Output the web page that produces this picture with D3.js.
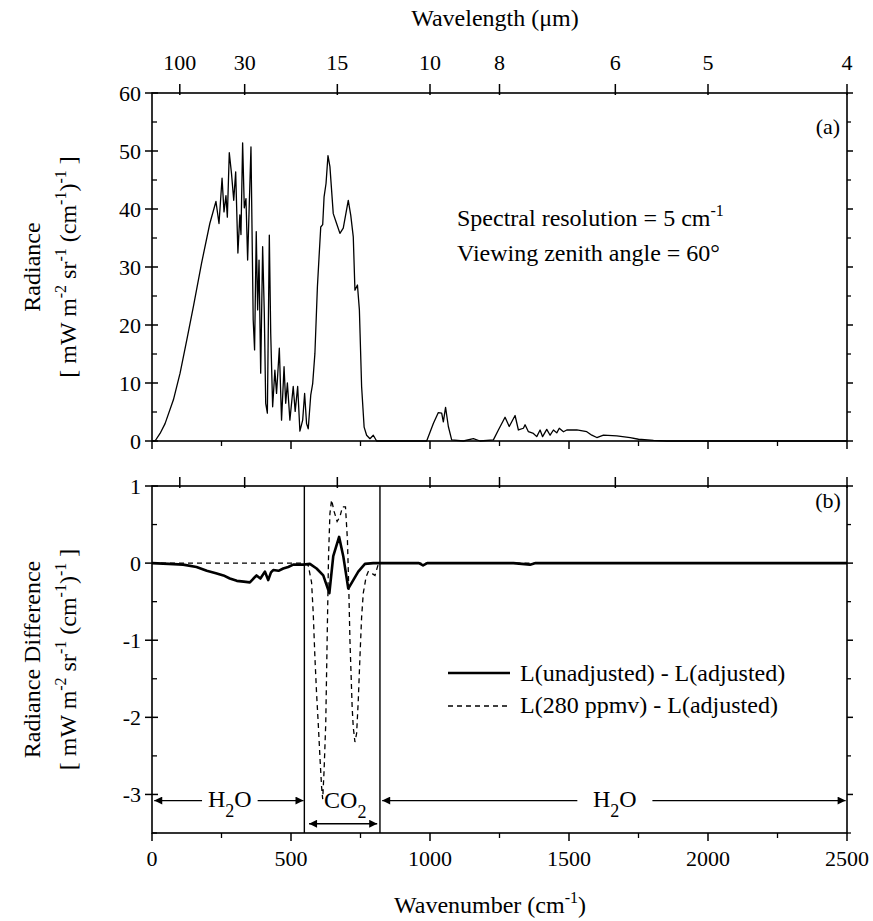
<!DOCTYPE html>
<html>
<head>
<meta charset="utf-8">
<script src="https://cdn.jsdelivr.net/npm/d3@7"></script>
<style>
  html, body { margin: 0; padding: 0; background: #fff; }
  svg { display: block; }
  text { font-family: "Liberation Serif", "Times New Roman", serif; fill: #000; }
</style>
</head>
<body>
<svg id="chart" width="873" height="921"></svg>
<script>
// ---------- DATA ----------
// Panel (a): radiance spectrum (wavenumber cm-1, radiance)
const radWn  = [0, 11, 29, 47, 77, 101, 125, 149, 178, 208, 230, 241, 252, 259, 266, 271, 278, 286, 294, 301, 309, 316, 320, 326, 332, 338, 344, 356, 364, 369, 375, 380, 385, 391, 398, 404, 409, 415, 422, 427, 434, 442, 448, 458, 466, 475, 481, 487, 496, 508, 515, 524, 532, 542, 549, 556, 562, 571, 578, 586, 595, 601, 607, 614, 619, 626, 633, 640, 652, 664, 676, 688, 706, 715, 724, 730, 739, 746, 754, 763, 772, 784, 796, 808, 900, 988, 1012, 1030, 1042, 1048, 1056, 1066, 1078, 1120, 1156, 1180, 1228, 1246, 1270, 1285, 1306, 1318, 1336, 1342, 1354, 1372, 1384, 1396, 1405, 1420, 1432, 1444, 1456, 1465, 1480, 1492, 1528, 1564, 1582, 1600, 1624, 1672, 1720, 1750, 1804, 1852, 2000, 2500];
const radVal = [0, 0, 1.3, 3.0, 7.1, 11.7, 17.4, 23.2, 30.6, 37.5, 41.3, 37.5, 45.3, 39.5, 42.3, 38.6, 49.7, 46.1, 41.5, 46.4, 32.4, 39.0, 35.6, 51.4, 40.2, 41.8, 31.2, 50.7, 20.9, 15.7, 36.1, 22.6, 31.2, 11.7, 33.5, 22.0, 6.5, 4.8, 35.5, 18.6, 5.9, 12.2, 8.2, 16.0, 3.6, 12.8, 6.5, 10.0, 3.6, 9.4, 5.1, 9.4, 1.7, 3.6, 8.2, 3.0, 2.1, 7.9, 9.9, 15.1, 26.6, 31.8, 36.9, 37.3, 42.1, 44.4, 49.2, 47.3, 39.2, 37.5, 35.8, 36.7, 41.5, 38.9, 35.2, 26.0, 26.9, 22.6, 9.4, 2.4, 1.0, 0.4, 1.0, 0, 0, 0, 3.0, 4.9, 4.8, 3.3, 5.8, 2.5, 0.2, 0, 0.4, 0, 0.2, 1.9, 4.1, 2.5, 4.4, 1.9, 2.2, 2.8, 1.6, 1.3, 0.75, 1.9, 0.75, 2.0, 1.0, 1.9, 1.4, 2.2, 1.6, 1.9, 1.9, 1.6, 1.0, 0.6, 1.0, 0.9, 0.6, 0.3, 0.1, 0, 0, 0];

// Panel (b): L(unadjusted) - L(adjusted)
const diffWn    = [0, 60, 112, 160, 197, 230, 257, 280, 305, 330, 352, 365, 376, 390, 406, 418, 428, 436, 455, 472, 490, 508, 544, 568, 592, 616, 638, 652, 673, 688, 706, 724, 742, 766, 796, 960, 975, 990, 1300, 1360, 1380, 2500];
const diffSolid = [0, -0.01, -0.02, -0.05, -0.1, -0.13, -0.16, -0.2, -0.23, -0.24, -0.25, -0.2, -0.16, -0.2, -0.11, -0.22, -0.12, -0.09, -0.1, -0.07, -0.05, -0.02, -0.02, -0.01, -0.07, -0.16, -0.39, 0.09, 0.34, 0.09, -0.33, -0.22, -0.11, -0.01, 0, 0, -0.03, 0, 0, -0.02, 0, 0];

// Panel (b): L(280 ppmv) - L(adjusted)
const dashWn  = [0, 548, 562, 574, 580, 586, 592, 598, 604, 610, 614, 619, 625, 628, 632, 635, 640, 646, 655, 666, 676, 685, 696, 703, 708, 712, 716, 720, 724, 730, 736, 742, 748, 754, 760, 770, 778, 790, 802, 815, 2500];
const dashVal = [0, 0, -0.03, -0.25, -0.65, -1.22, -1.69, -2.08, -2.51, -2.9, -3.06, -2.69, -2.08, -1.43, -0.57, 0.08, 0.64, 0.82, 0.67, 0.54, 0.6, 0.73, 0.73, 0.3, -0.35, -1.0, -1.43, -1.87, -2.13, -2.32, -2.21, -1.78, -1.22, -0.7, -0.39, -0.18, -0.11, -0.13, -0.16, 0, 0];

// Axis ticks
const wnMajor = [0, 500, 1000, 1500, 2000, 2500];
const wnMinor = [250, 750, 1250, 1750, 2250];
const wavelengthTicks = [100, 30, 15, 10, 8, 6, 5, 4];
const radTicks = [0, 10, 20, 30, 40, 50, 60];
const radMinor = [5, 15, 25, 35, 45, 55];
const diffTicks = [1, 0, -1, -2, -3];
const diffMinor = [0.5, -0.5, -1.5, -2.5, -3.5];

// Band boundaries (cm-1)
const bandEdges = [548, 820];

// ---------- SCALES ----------
const svg = d3.select("#chart");
const x = d3.scaleLinear().domain([0, 2500]).range([152, 847]);
const yA = d3.scaleLinear().domain([0, 60]).range([441, 93]);
const yB = d3.scaleLinear().domain([-3.5, 1]).range([833, 486]);

const FS = 22;   // tick labels
const FT = 24;   // titles / annotations
const SUP = 16;

function drawPanel(y, yMajor, yMinor) {
  const g = svg.append("g");
  const [y0, y1] = y.range(); // bottom, top
  g.append("rect").attr("x", x(0)).attr("y", y1).attr("width", x(2500) - x(0)).attr("height", y0 - y1)
    .attr("fill", "none").attr("stroke", "#000").attr("stroke-width", 1.6);
  yMajor.forEach(v => {
    g.append("line").attr("x1", x(0) - 7).attr("x2", x(0) + 6).attr("y1", y(v)).attr("y2", y(v)).attr("stroke", "#000").attr("stroke-width", 1.5);
    g.append("line").attr("x1", x(2500)).attr("x2", x(2500) + 6).attr("y1", y(v)).attr("y2", y(v)).attr("stroke", "#000").attr("stroke-width", 1.5);
  });
  yMinor.forEach(v => {
    g.append("line").attr("x1", x(0)).attr("x2", x(0) + 5).attr("y1", y(v)).attr("y2", y(v)).attr("stroke", "#000").attr("stroke-width", 1.3);
    g.append("line").attr("x1", x(2500)).attr("x2", x(2500) + 4).attr("y1", y(v)).attr("y2", y(v)).attr("stroke", "#000").attr("stroke-width", 1.3);
  });
  g.selectAll(null).data(yMajor).join("text")
    .attr("x", x(0) - 11).attr("y", d => y(d)).attr("dy", "0.35em")
    .attr("text-anchor", "end").attr("font-size", FS).text(d => d);
  wavelengthTicks.forEach(l => {
    const wn = 10000 / l;
    g.append("line").attr("x1", x(wn)).attr("x2", x(wn)).attr("y1", y1 - 9).attr("y2", y1 + 2).attr("stroke", "#000").attr("stroke-width", 1.5);
  });
  wnMajor.forEach(v => {
    g.append("line").attr("x1", x(v)).attr("x2", x(v)).attr("y1", y0).attr("y2", y0 + 8).attr("stroke", "#000").attr("stroke-width", 1.5);
  });
  wnMinor.forEach(v => {
    g.append("line").attr("x1", x(v)).attr("x2", x(v)).attr("y1", y0).attr("y2", y0 + 5).attr("stroke", "#000").attr("stroke-width", 1.3);
  });
  return g;
}

drawPanel(yA, radTicks, radMinor);
drawPanel(yB, diffTicks, diffMinor);

// top wavelength tick labels
svg.selectAll(null).data(wavelengthTicks).join("text")
  .attr("x", d => x(10000 / d)).attr("y", 70)
  .attr("text-anchor", "middle").attr("font-size", FS).text(d => d);
svg.append("text").attr("x", 495).attr("y", 26).attr("text-anchor", "middle").attr("font-size", FT)
  .text("Wavelength (\u03bcm)");

// bottom wavenumber tick labels
svg.selectAll(null).data(wnMajor).join("text")
  .attr("x", d => x(d)).attr("y", 866)
  .attr("text-anchor", "middle").attr("font-size", FS).text(d => d);
const xt = svg.append("text").attr("x", 490).attr("y", 913).attr("text-anchor", "middle").attr("font-size", FT);
xt.append("tspan").text("Wavenumber (cm");
xt.append("tspan").attr("dy", -10).attr("font-size", SUP).text("-1");
xt.append("tspan").attr("dy", 10).text(")");

// y axis titles
function unitLabel(cx, cy) {
  const t = svg.append("text").attr("transform", `translate(${cx},${cy}) rotate(-90)`)
    .attr("text-anchor", "middle").attr("font-size", FT);
  t.append("tspan").text("[ mW m");
  t.append("tspan").attr("dy", -10).attr("font-size", SUP).text("-2");
  t.append("tspan").attr("dy", 10).text(" sr");
  t.append("tspan").attr("dy", -10).attr("font-size", SUP).text("-1");
  t.append("tspan").attr("dy", 10).text(" (cm");
  t.append("tspan").attr("dy", -10).attr("font-size", SUP).text("-1");
  t.append("tspan").attr("dy", 10).text(")");
  t.append("tspan").attr("dy", -10).attr("font-size", SUP).text("-1");
  t.append("tspan").attr("dy", 10).text(" ]");
}
svg.append("text").attr("transform", `translate(40,${(yA(0) + yA(60)) / 2}) rotate(-90)`)
  .attr("text-anchor", "middle").attr("font-size", FT).text("Radiance");
unitLabel(76, (yA(0) + yA(60)) / 2);
svg.append("text").attr("transform", `translate(40,${(yB(-3.5) + yB(1)) / 2}) rotate(-90)`)
  .attr("text-anchor", "middle").attr("font-size", FT).text("Radiance Difference");
unitLabel(76, (yB(-3.5) + yB(1)) / 2);

// ---------- PANEL (a) CURVE ----------
const radData = radWn.map((w, i) => [w, radVal[i]]);
svg.append("path").datum(radData)
  .attr("fill", "none").attr("stroke", "#000").attr("stroke-width", 1.3).attr("stroke-linejoin", "round")
  .attr("d", d3.line().x(d => x(d[0])).y(d => yA(d[1])));

svg.append("text").attr("x", 828).attr("y", 134).attr("text-anchor", "middle").attr("font-size", FS).text("(a)");
const s1 = svg.append("text").attr("x", 457).attr("y", 226).attr("font-size", FT);
s1.append("tspan").text("Spectral resolution = 5 cm");
s1.append("tspan").attr("dy", -10).attr("font-size", SUP).text("-1");
svg.append("text").attr("x", 457).attr("y", 261).attr("font-size", FT).text("Viewing zenith angle = 60\u00b0");

// ---------- PANEL (b) CURVES ----------
const solidData = diffWn.map((w, i) => [w, diffSolid[i]]);
const dashData = dashWn.map((w, i) => [w, dashVal[i]]);
const lineB = d3.line().x(d => x(d[0])).y(d => yB(d[1]));
svg.append("path").datum(dashData)
  .attr("fill", "none").attr("stroke", "#000").attr("stroke-width", 1.3).attr("stroke-dasharray", "5,4")
  .attr("d", lineB);
svg.append("path").datum(solidData)
  .attr("fill", "none").attr("stroke", "#000").attr("stroke-width", 2.6).attr("stroke-linejoin", "round")
  .attr("d", lineB);

bandEdges.forEach(b => {
  svg.append("line").attr("x1", x(b)).attr("x2", x(b)).attr("y1", yB(1)).attr("y2", yB(-3.5))
    .attr("stroke", "#000").attr("stroke-width", 1.4);
});

svg.append("text").attr("x", 828).attr("y", 508).attr("text-anchor", "middle").attr("font-size", FS).text("(b)");

// legend
svg.append("line").attr("x1", 448).attr("x2", 510).attr("y1", 673).attr("y2", 673).attr("stroke", "#000").attr("stroke-width", 2.6);
svg.append("text").attr("x", 520).attr("y", 681).attr("font-size", FT).text("L(unadjusted) - L(adjusted)");
svg.append("line").attr("x1", 448).attr("x2", 510).attr("y1", 706).attr("y2", 706).attr("stroke", "#000").attr("stroke-width", 1.3).attr("stroke-dasharray", "5,4");
svg.append("text").attr("x", 520).attr("y", 713).attr("font-size", FT).text("L(280 ppmv) - L(adjusted)");

// arrows
const defs = svg.append("defs");
defs.append("marker").attr("id", "ah").attr("viewBox", "0 0 10 10").attr("refX", 10).attr("refY", 5)
  .attr("markerWidth", 13).attr("markerHeight", 8).attr("markerUnits", "userSpaceOnUse").attr("orient", "auto-start-reverse")
  .append("path").attr("d", "M0,0 L10,5 L0,10 z").attr("fill", "#000");

function arrowSeg(a, b, yv, withStart, withEnd) {
  const l = svg.append("line").attr("x1", x(a)).attr("x2", x(b)).attr("y1", yB(yv)).attr("y2", yB(yv))
    .attr("stroke", "#000").attr("stroke-width", 1.4);
  if (withStart) l.attr("marker-start", "url(#ah)");
  if (withEnd) l.attr("marker-end", "url(#ah)");
}
function h2o(cxWn, yv) {
  const t = svg.append("text").attr("x", x(cxWn)).attr("y", yB(yv) + 6).attr("text-anchor", "middle").attr("font-size", FT);
  t.append("tspan").text("H");
  t.append("tspan").attr("dy", 10).attr("font-size", SUP + 2).text("2");
  t.append("tspan").attr("dy", -10).text("O");
}
const yArrow = -3.08;
arrowSeg(8, 180, yArrow, true, false);
arrowSeg(380, 545, yArrow, false, true);
h2o(280, yArrow);
arrowSeg(828, 1530, yArrow, true, false);
arrowSeg(1800, 2495, yArrow, false, true);
h2o(1665, yArrow);
// CO2
const co = svg.append("text").attr("x", x(695)).attr("y", yB(-3.08) + 7).attr("text-anchor", "middle").attr("font-size", FT);
co.append("tspan").text("CO");
co.append("tspan").attr("dy", 10).attr("font-size", SUP + 2).text("2");
arrowSeg(565, 810, -3.38, true, true);
</script>
</body>
</html>
